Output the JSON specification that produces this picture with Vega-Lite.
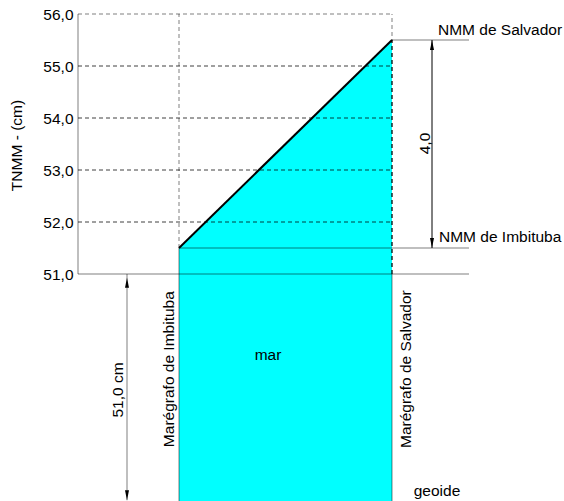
{
  "$schema": "https://vega.github.io/schema/vega-lite/v6.json",
  "width": 486,
  "height": 487,
  "autosize": {"type": "none"},
  "padding": {"left": 78, "top": 14, "right": 0, "bottom": 0},
  "background": "white",
  "config": {"view": {"stroke": null}, "text": {"font": "Liberation Sans", "fontSize": 15.5, "color": "black"}},
  "datasets": {
    "sea": [{"x": 10.1, "y": 51.5, "y2": 46.635}, {"x": 31.4, "y": 55.5, "y2": 46.635}],
    "gray": [
      {"x": 0, "x2": 0, "y": 51, "y2": 56},
      {"x": 0, "x2": 39.1, "y": 51, "y2": 51},
      {"x": 10.1, "x2": 39.1, "y": 51.5, "y2": 51.5},
      {"x": 31.4, "x2": 39.1, "y": 55.5, "y2": 55.5},
      {"x": 10.1, "x2": 10.1, "y": 46.635, "y2": 51.5},
      {"x": 31.4, "x2": 31.4, "y": 46.635, "y2": 51},
      {"x": 4.9, "x2": 4.9, "y": 46.65, "y2": 51}
    ],
    "grayDash": [
      {"x": 0, "x2": 31.4, "y": 56, "y2": 56},
      {"x": 10.1, "x2": 10.1, "y": 51.5, "y2": 56},
      {"x": 31.4, "x2": 31.4, "y": 51, "y2": 56}
    ],
    "grid": [
      {"x": 0, "x2": 31.4, "y": 52},
      {"x": 0, "x2": 31.4, "y": 53},
      {"x": 0, "x2": 31.4, "y": 54},
      {"x": 0, "x2": 31.4, "y": 55}
    ],
    "blackDash": [{"x": 31.4, "y": 51, "y2": 55.5}],
    "arrowLine": [{"x": 35.4, "y": 51.5, "y2": 55.5}],
    "trend": [{"x": 10.1, "y": 51.5}, {"x": 31.4, "y": 55.5}],
    "heads": [
      {"x": 35.4, "y": 55.5, "dir": "up"},
      {"x": 35.4, "y": 51.5, "dir": "down"},
      {"x": 4.9, "y": 50.93, "dir": "up"},
      {"x": 4.9, "y": 46.65, "dir": "down"}
    ],
    "labelsLeft": [
      {"x": 36.0, "y": 55.683, "label": "NMM de Salvador"},
      {"x": 36.1, "y": 51.717, "label": "NMM de Imbituba"}
    ],
    "labelsCenter": [
      {"x": 19.0, "y": 49.44, "label": "mar"},
      {"x": 35.9, "y": 46.833, "label": "geoide"}
    ],
    "labelsVertical": [
      {"x": 34.7, "y": 53.51, "label": "4,0"},
      {"x": 4.0, "y": 48.77, "label": "51,0 cm"},
      {"x": 9.1, "y": 49.17, "label": "Marégrafo de Imbituba"},
      {"x": 32.8, "y": 49.17, "label": "Marégrafo de Salvador"}
    ]
  },
  "encoding": {
    "x": {"field": "x", "type": "quantitative", "scale": {"domain": [0, 48.6], "nice": false, "zero": false}, "axis": null},
    "y": {"field": "y", "type": "quantitative", "scale": {"domain": [46.635, 56], "nice": false, "zero": false},
      "axis": {
        "values": [51, 52, 53, 54, 55, 56],
        "labelExpr": "replace(format(datum.value, '.1f'), '.', ',')",
        "domain": false, "ticks": false, "grid": false,
        "labelPadding": 5, "labelFont": "Liberation Sans", "labelFontSize": 15.5, "labelColor": "black",
        "title": "TNMM - (cm)", "titleFont": "Liberation Sans", "titleFontSize": 15.5, "titleFontWeight": "normal",
        "titleColor": "black", "titlePadding": 18, "titleY": 131
      }}
  },
  "layer": [
    {
      "data": {"name": "sea"},
      "mark": {"type": "area", "color": "#00FFFF", "opacity": 1},
      "encoding": {"y2": {"field": "y2"}}
    },
    {
      "data": {"name": "grid"},
      "mark": {"type": "rule", "color": "black", "opacity": 0.75, "strokeDash": [4, 3], "strokeWidth": 1},
      "encoding": {"x2": {"field": "x2"}}
    },
    {
      "data": {"name": "grayDash"},
      "mark": {"type": "rule", "color": "black", "opacity": 0.5, "strokeDash": [4, 3], "strokeWidth": 1},
      "encoding": {"x2": {"field": "x2"}, "y2": {"field": "y2"}}
    },
    {
      "data": {"name": "gray"},
      "mark": {"type": "rule", "color": "black", "opacity": 0.5, "strokeWidth": 1},
      "encoding": {"x2": {"field": "x2"}, "y2": {"field": "y2"}}
    },
    {
      "data": {"name": "blackDash"},
      "mark": {"type": "rule", "color": "black", "strokeDash": [4, 3], "strokeWidth": 1},
      "encoding": {"y2": {"field": "y2"}}
    },
    {
      "data": {"name": "arrowLine"},
      "mark": {"type": "rule", "color": "black", "strokeWidth": 1},
      "encoding": {"y2": {"field": "y2"}}
    },
    {
      "data": {"name": "trend"},
      "mark": {"type": "line", "color": "black", "strokeWidth": 2},
      "encoding": {}
    },
    {
      "data": {"name": "heads"},
      "mark": {"type": "point", "filled": true, "color": "black", "opacity": 1, "size": 100, "strokeWidth": 0},
      "encoding": {
        "shape": {"field": "dir", "type": "nominal", "legend": null,
          "scale": {"domain": ["up", "down"], "range": ["M0,0L0.4,2L-0.4,2Z", "M0,0L0.4,-2L-0.4,-2Z"]}}
      }
    },
    {
      "data": {"name": "labelsLeft"},
      "mark": {"type": "text", "align": "left", "baseline": "middle"},
      "encoding": {"text": {"field": "label"}}
    },
    {
      "data": {"name": "labelsCenter"},
      "mark": {"type": "text", "align": "center", "baseline": "middle"},
      "encoding": {"text": {"field": "label"}}
    },
    {
      "data": {"name": "labelsVertical"},
      "mark": {"type": "text", "align": "center", "baseline": "middle", "angle": 270},
      "encoding": {"text": {"field": "label"}}
    }
  ]
}
